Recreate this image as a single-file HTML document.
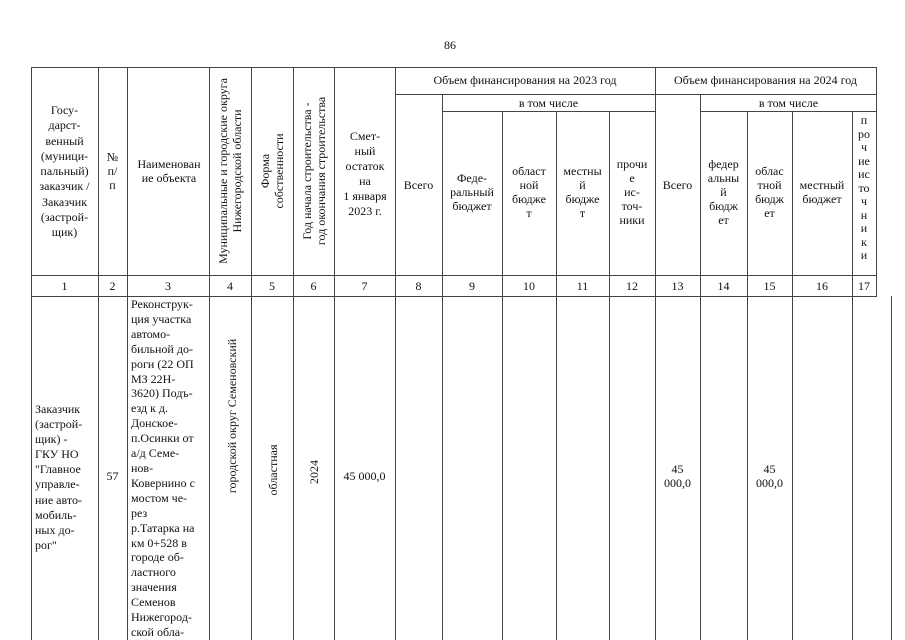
<!DOCTYPE html>
<html><head><meta charset="utf-8"><style>
html,body{margin:0;width:905px;height:640px;overflow:hidden}
body{background:#fff;position:relative;font-family:"Liberation Serif",serif;font-size:12px;color:#111}
.v{position:absolute;width:1px;background:#444}
.h{position:absolute;height:1px;background:#444}
.t{position:absolute;text-align:center;line-height:14px}
.r{position:absolute;white-space:nowrap;line-height:14px;text-align:center}
.b{position:absolute;line-height:14.9px;text-align:left}
</style></head><body>
<div class="t" style="left:430px;top:38px;width:40px">86</div>
<div class="h" style="left:31px;top:67px;width:846px"></div>
<div class="h" style="left:395px;top:94px;width:482px"></div>
<div class="h" style="left:442px;top:111px;width:213px"></div>
<div class="h" style="left:701px;top:111px;width:176px"></div>
<div class="h" style="left:31px;top:275px;width:846px"></div>
<div class="h" style="left:31px;top:296px;width:846px"></div>
<div class="v" style="left:31px;top:67px;height:573px"></div>
<div class="v" style="left:98px;top:67px;height:573px"></div>
<div class="v" style="left:127px;top:67px;height:573px"></div>
<div class="v" style="left:209px;top:67px;height:573px"></div>
<div class="v" style="left:251px;top:67px;height:573px"></div>
<div class="v" style="left:293px;top:67px;height:573px"></div>
<div class="v" style="left:334px;top:67px;height:573px"></div>
<div class="v" style="left:395px;top:67px;height:573px"></div>
<div class="v" style="left:442px;top:94px;height:546px"></div>
<div class="v" style="left:502px;top:111px;height:529px"></div>
<div class="v" style="left:556px;top:111px;height:529px"></div>
<div class="v" style="left:609px;top:111px;height:529px"></div>
<div class="v" style="left:655px;top:67px;height:573px"></div>
<div class="v" style="left:700px;top:94px;height:546px"></div>
<div class="v" style="left:747px;top:111px;height:529px"></div>
<div class="v" style="left:792px;top:111px;height:529px"></div>
<div class="v" style="left:852px;top:111px;height:529px"></div>
<div class="v" style="left:876px;top:67px;height:229px"></div>
<div class="v" style="left:891px;top:296px;height:344px"></div>
<div class="t" style="left:31px;top:103px;width:67px;line-height:15.3px">Госу-<br>дарст-<br>венный<br>(муници-<br>пальный)<br>заказчик /<br>Заказчик<br>(застрой-<br>щик)</div>
<div class="t" style="left:98px;top:150px;width:29px">№<br>п/<br>п</div>
<div class="t" style="left:128px;top:157px;width:82px">Наименован<br>ие объекта</div>
<div class="r" style="left:230px;top:171px;transform:translate(-50%,-50%) rotate(-90deg)">Муниципальные и городские округа<br>Нижегородской области</div>
<div class="r" style="left:272px;top:171px;transform:translate(-50%,-50%) rotate(-90deg)">Форма<br>собственности</div>
<div class="r" style="left:314px;top:171px;transform:translate(-50%,-50%) rotate(-90deg)">Год начала строительства -<br>год окончания строительства</div>
<div class="t" style="left:335px;top:129px;width:60px;line-height:15px">Смет-<br>ный<br>остаток<br>на<br>1 января<br>2023 г.</div>
<div class="t" style="left:395px;top:73px;width:260px">Объем финансирования на 2023 год</div>
<div class="t" style="left:655px;top:73px;width:221px">Объем финансирования на 2024 год</div>
<div class="t" style="left:442px;top:96px;width:213px">в том числе</div>
<div class="t" style="left:701px;top:96px;width:175px">в том числе</div>
<div class="t" style="left:395px;top:178px;width:47px">Всего</div>
<div class="t" style="left:442px;top:171px;width:60px">Феде-<br>ральный<br>бюджет</div>
<div class="t" style="left:502px;top:164px;width:54px">област<br>ной<br>бюдже<br>т</div>
<div class="t" style="left:556px;top:164px;width:53px">местны<br>й<br>бюдже<br>т</div>
<div class="t" style="left:609px;top:157px;width:46px">прочи<br>е<br>ис-<br>точ-<br>ники</div>
<div class="t" style="left:655px;top:178px;width:45px">Всего</div>
<div class="t" style="left:700px;top:157px;width:47px">федер<br>альны<br>й<br>бюдж<br>ет</div>
<div class="t" style="left:747px;top:164px;width:45px">облас<br>тной<br>бюдж<br>ет</div>
<div class="t" style="left:792px;top:178px;width:60px">местный<br>бюджет</div>
<div class="t" style="left:852px;top:114px;width:24px;line-height:13.5px">п<br>ро<br>ч<br>ие<br>ис<br>то<br>ч<br>н<br>и<br>к<br>и</div>
<div class="t" style="left:31px;top:279px;width:67px">1</div>
<div class="t" style="left:98px;top:279px;width:29px">2</div>
<div class="t" style="left:127px;top:279px;width:82px">3</div>
<div class="t" style="left:209px;top:279px;width:42px">4</div>
<div class="t" style="left:251px;top:279px;width:42px">5</div>
<div class="t" style="left:293px;top:279px;width:41px">6</div>
<div class="t" style="left:334px;top:279px;width:61px">7</div>
<div class="t" style="left:395px;top:279px;width:47px">8</div>
<div class="t" style="left:442px;top:279px;width:60px">9</div>
<div class="t" style="left:502px;top:279px;width:54px">10</div>
<div class="t" style="left:556px;top:279px;width:53px">11</div>
<div class="t" style="left:609px;top:279px;width:46px">12</div>
<div class="t" style="left:655px;top:279px;width:45px">13</div>
<div class="t" style="left:700px;top:279px;width:47px">14</div>
<div class="t" style="left:747px;top:279px;width:45px">15</div>
<div class="t" style="left:792px;top:279px;width:60px">16</div>
<div class="t" style="left:852px;top:279px;width:24px">17</div>
<div class="b" style="left:35px;top:402px;line-height:15.1px">Заказчик<br>(застрой-<br>щик) -<br>ГКУ НО<br>"Главное<br>управле-<br>ние авто-<br>мобиль-<br>ных до-<br>рог"</div>
<div class="t" style="left:98px;top:469px;width:29px">57</div>
<div class="b" style="left:131px;top:297px">Реконструк-<br>ция участка<br>автомо-<br>бильной до-<br>роги (22 ОП<br>МЗ 22Н-<br>3620) Подъ-<br>езд к д.<br>Донское-<br>п.Осинки от<br>а/д Семе-<br>нов-<br>Ковернино с<br>мостом че-<br>рез<br>р.Татарка на<br>км 0+528 в<br>городе об-<br>ластного<br>значения<br>Семенов<br>Нижегород-<br>ской обла-</div>
<div class="r" style="left:232px;top:416px;transform:translate(-50%,-50%) rotate(-90deg)">городской округ Семеновский</div>
<div class="r" style="left:273px;top:470px;transform:translate(-50%,-50%) rotate(-90deg)">областная</div>
<div class="r" style="left:314px;top:472px;transform:translate(-50%,-50%) rotate(-90deg)">2024</div>
<div class="t" style="left:334px;top:469px;width:61px">45 000,0</div>
<div class="t" style="left:655px;top:462px;width:45px">45<br>000,0</div>
<div class="t" style="left:747px;top:462px;width:45px">45<br>000,0</div>
</body></html>
